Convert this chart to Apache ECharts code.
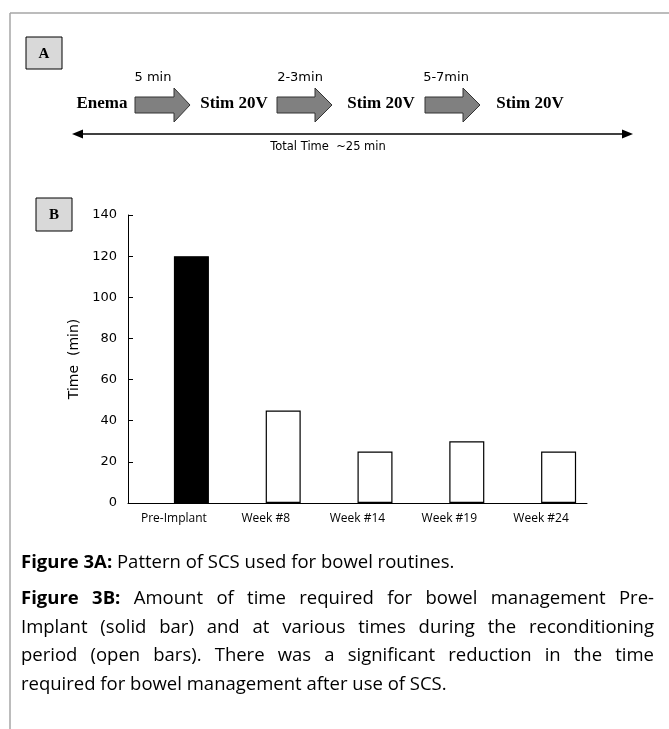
<!DOCTYPE html>
<html>
<head>
<meta charset="utf-8">
<script src="https://cdn.jsdelivr.net/npm/echarts@6/dist/echarts.min.js"></script>
<style>
html,body{margin:0;padding:0;background:#fff;}
#chart{width:669px;height:729px;}
</style>
</head>
<body>
<div id="chart"></div>
<script>
// ---- data ----
const categories = ['Pre-Implant', 'Week #8', 'Week #14', 'Week #19', 'Week #24'];
const timeValues = [120, 45, 25, 30, 25];
const yTicks = [0, 20, 40, 60, 80, 100, 120, 140];
const stepLabels = ['Enema', 'Stim 20V', 'Stim 20V', 'Stim 20V'];
const intervalLabels = ['5 min', '2-3min', '5-7min'];
const totalLabel = 'Total Time  ~25 min';
const captionA = [['Figure 3A:', true], ['Pattern of SCS used for bowel routines.', false]];
const captionB = [
  [['Figure', true], ['3B:', true], ['Amount', false], ['of', false], ['time', false], ['required', false], ['for', false], ['bowel', false], ['management', false], ['Pre-', false]],
  [['Implant (solid bar) and at various times during the reconditioning', false]],
  [['period (open bars). There was a significant reduction in the time', false]],
  [['required for bowel management after use of SCS.', false]]
];

const chart = echarts.init(document.getElementById('chart'), null, {renderer: 'canvas'});

const CAP_FONT = '"Open Sans", sans-serif';
const CAP_SIZE = 18.5;
const ctx = document.createElement('canvas').getContext('2d');
function measure(t, bold) {
  ctx.font = (bold ? 'bold ' : '') + CAP_SIZE + 'px ' + CAP_FONT;
  return ctx.measureText(t).width;
}

const graphics = [];
// outer frame
graphics.push({type: 'line', shape: {x1: 10, y1: 13, x2: 669, y2: 13}, style: {stroke: '#a6a6a6', lineWidth: 1.5}});
graphics.push({type: 'line', shape: {x1: 10, y1: 13, x2: 10, y2: 729}, style: {stroke: '#a6a6a6', lineWidth: 1.5}});

// panel boxes
function panelBox(x, y, w, h, letter) {
  graphics.push({type: 'rect', shape: {x: x, y: y, width: w, height: h}, style: {fill: '#d9d9d9', stroke: '#000', lineWidth: 1}});
  graphics.push({type: 'text', x: x + w / 2, y: y + h / 2 + 1, style: {text: letter, font: 'bold 15px "Liberation Serif", serif', fill: '#000', align: 'center', verticalAlign: 'middle'}});
}
panelBox(26, 37, 36, 32, 'A');
panelBox(36, 198, 36, 33, 'B');

// panel A flow
const stepX = [102, 234, 381, 530];
stepLabels.forEach((t, i) => {
  graphics.push({type: 'text', x: stepX[i], y: 104, style: {text: t, font: 'bold 17px "Liberation Serif", serif', fill: '#000', align: 'center', verticalAlign: 'middle'}});
});
const arrows = [[135, 174, 190], [277, 315, 332], [425, 463, 480]];
const intervalX = [153, 300, 446];
arrows.forEach((a, i) => {
  const cy = 105, bh = 8, hh = 17;
  graphics.push({type: 'polygon', shape: {points: [[a[0], cy - bh], [a[1], cy - bh], [a[1], cy - hh], [a[2], cy], [a[1], cy + hh], [a[1], cy + bh], [a[0], cy + bh]]}, style: {fill: '#808080', stroke: '#333', lineWidth: 1}});
  graphics.push({type: 'text', x: intervalX[i], y: 78, style: {text: intervalLabels[i], font: '13px "DejaVu Sans", sans-serif', fill: '#000', align: 'center', verticalAlign: 'middle'}});
});
// total time double arrow
graphics.push({type: 'line', shape: {x1: 80, y1: 134, x2: 625, y2: 134}, style: {stroke: '#000', lineWidth: 1.3}});
graphics.push({type: 'polygon', shape: {points: [[72, 134], [83, 129.5], [83, 138.5]]}, style: {fill: '#000'}});
graphics.push({type: 'polygon', shape: {points: [[633, 134], [622, 129.5], [622, 138.5]]}, style: {fill: '#000'}});
graphics.push({type: 'text', x: 328, y: 147, style: {text: totalLabel, font: '11.5px "DejaVu Sans", sans-serif', fill: '#000', align: 'center', verticalAlign: 'middle'}});

// captions
const CAP_L = 21, CAP_R = 654;
function addWords(words, y, justify) {
  const sp = measure(' ', false);
  const widths = words.map(w => measure(w[0], w[1]));
  const total = widths.reduce((s, v) => s + v, 0);
  const gap = justify && words.length > 1 ? (CAP_R - CAP_L - total) / (words.length - 1) : sp;
  let x = CAP_L;
  words.forEach((w, i) => {
    graphics.push({type: 'text', x: x, y: y, style: {text: w[0], font: (w[1] ? 'bold ' : '') + CAP_SIZE + 'px ' + CAP_FONT, fill: '#000', align: 'left', verticalAlign: 'middle'}});
    x += widths[i] + gap;
  });
}
function splitWords(line) {
  const out = [];
  line.forEach(seg => seg[0].split(' ').forEach(w => out.push([w, seg[1]])));
  return out;
}
addWords(captionA, 563, false);
const capY = [599, 628, 656, 685];
captionB.forEach((line, i) => addWords(splitWords(line), capY[i], i < 3));

const option = {
  animation: false,
  backgroundColor: '#fff',
  grid: {left: 128, top: 215, width: 459, height: 288, containLabel: false},
  xAxis: {
    type: 'category',
    data: categories,
    axisLine: {lineStyle: {color: '#000', width: 1}},
    axisTick: {inside: true, length: 4, lineStyle: {color: '#000'}},
    axisLabel: {color: '#000', fontFamily: '"Open Sans", sans-serif', fontSize: 12, margin: 10}
  },
  yAxis: {
    type: 'value',
    min: yTicks[0],
    max: yTicks[yTicks.length - 1],
    interval: yTicks[1] - yTicks[0],
    name: 'Time  (min)',
    nameLocation: 'middle',
    nameGap: 46,
    nameRotate: 90,
    nameTextStyle: {color: '#000', fontFamily: '"DejaVu Sans", sans-serif', fontSize: 14},
    axisLine: {show: true, lineStyle: {color: '#000', width: 1}},
    axisTick: {show: true, inside: true, length: 5, lineStyle: {color: '#000'}},
    axisLabel: {color: '#000', fontFamily: '"DejaVu Sans", sans-serif', fontSize: 13, margin: 11},
    splitLine: {show: false}
  },
  series: [
    {type: 'bar', name: 'spacer', data: categories.map(() => '-'), barWidth: 35, barGap: '0%', silent: true},
    {
      type: 'bar', name: 'Time', data: timeValues, barWidth: 35, barGap: '0%',
      itemStyle: {
        color: p => p.dataIndex === 0 ? '#000' : '#fff',
        borderColor: '#000', borderWidth: 1.2
      }
    }
  ],
  graphic: graphics
};
chart.setOption(option);
</script>
</body>
</html>
